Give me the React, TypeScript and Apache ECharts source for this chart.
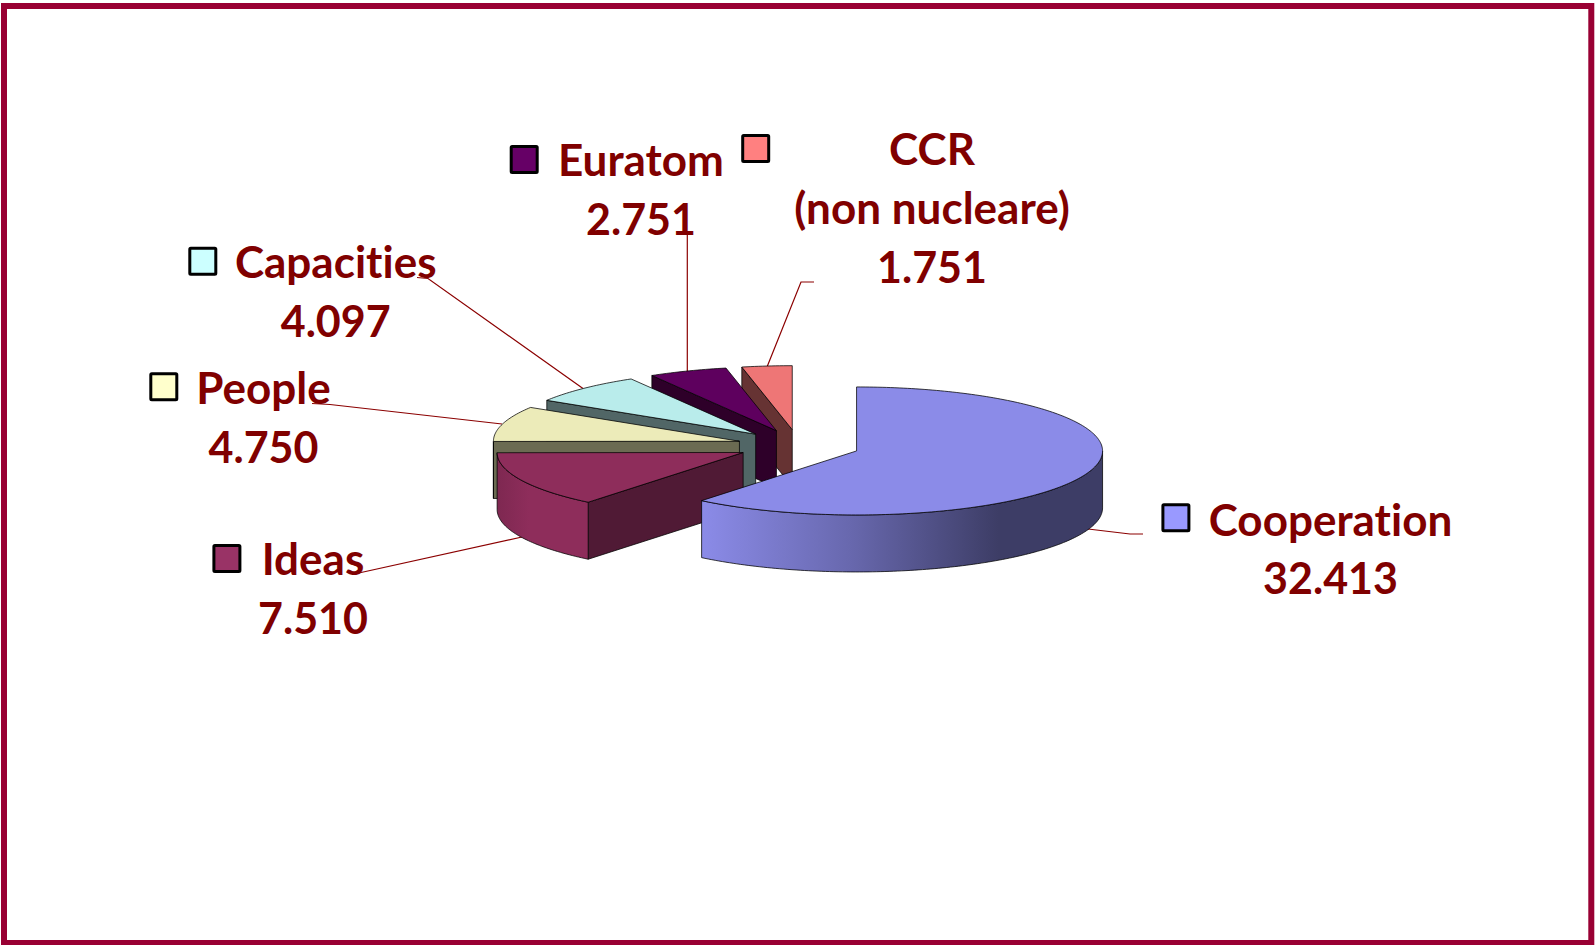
import React, { useEffect, useRef } from "react";
import * as echarts from "echarts";

const CATEGORIES = ["Cooperation", "Ideas", "People", "Capacities", "Euratom", "CCR"];
const VALUES = [32413, 7510, 4750, 4097, 2751, 1751];
const NAME_LINES = [["Cooperation"], ["Ideas"], ["People"], ["Capacities"], ["Euratom"], ["CCR", "(non nucleare)"]];

const LEGEND_COLORS = ["#9999ff", "#993366", "#ffffcc", "#ccffff", "#660066", "#ff8080"];
const TOP_COLORS = ["#8b8be8", "#8e2d5b", "#ecebb9", "#b9eceb", "#5e005e", "#ee7676"];
const WALL_COLORS = ["#3d3d66", "#501a35", "#6b6b52", "#516666", "#2e0029", "#663333"];
const CURVE_STOPS: [number, string][][] = [
  [[0, "#8b8be8"], [0.37, "#6868ae"], [0.74, "#3d3d66"], [1, "#3d3d66"]],
  [[0, "#7e2851"], [0.35, "#8e2d5b"], [1, "#8e2d5b"]],
  [[0, "#6b6b52"], [1, "#6b6b52"]],
  [[0, "#516666"], [1, "#516666"]],
  [[0, "#2e0029"], [1, "#2e0029"]],
  [[0, "#663333"], [1, "#663333"]],
];

// Projection of the 3D pie
const CX = 798.6;
const CY = 445.6;
const RX = 246;
const RY = 64;
const DEPTH = 57;
const EXPLODE = 0.25;

// Layout of the labels: centre x, y of first line, swatch left/top
const LABEL_X = [1330.5, 313, 263.5, 335.7, 641, 932];
const LABEL_Y = [518.5, 558, 387, 261, 159, 148];
const LINE_GAP = 59.2;
const SWATCH = [
  [1161.4, 503.3],
  [212.4, 544],
  [149.3, 372.3],
  [188.3, 246.7],
  [509.7, 145],
  [741.2, 134],
];
const LEADERS = [
  [[1088, 529], [1130, 534], [1143, 534]],
  [[352, 574.5], [522, 537]],
  [[312, 403.5], [330, 404.5], [502, 424]],
  [[417, 277.5], [428, 278.5], [583, 388.5]],
  [[687.3, 235], [687.3, 372]],
  [[814, 282], [801, 282], [767, 367]],
];

const TEXT_COLOR = "#800000";
const NAME_FONT = '700 44px Lato, "Noto Sans", sans-serif';
const VALUE_FONT = '700 43px Lato, "Noto Sans", sans-serif';
const OUTLINE = "rgba(0,0,0,0.75)";

const TOTAL = VALUES.reduce((a, b) => a + b, 0);
const formatValue = (v: number) => String(v).replace(/\B(?=(\d{3})+$)/g, ".");
const rad = (d: number) => (d * Math.PI) / 180;

function sliceAngles(i: number): [number, number] {
  let before = 0;
  for (let k = 0; k < i; k++) before += VALUES[k];
  return [(before / TOTAL) * 360, ((before + VALUES[i]) / TOTAL) * 360];
}

function renderSlice(_params: any, api: any) {
  const i = api.value(1) as number;
  const [a0, a1] = sliceAngles(i);
  const mid = rad((a0 + a1) / 2);
  const ox = CX + EXPLODE * RX * Math.sin(mid);
  const oy = CY - EXPLODE * RY * Math.cos(mid);
  const pt = (deg: number, drop = 0): number[] => [
    ox + RX * Math.sin(rad(deg)),
    oy - RY * Math.cos(rad(deg)) + drop,
  ];
  const arc = (from: number, to: number, drop = 0) => {
    const n = Math.max(2, Math.ceil(Math.abs(to - from)));
    const out: number[][] = [];
    for (let k = 0; k <= n; k++) out.push(pt(from + ((to - from) * k) / n, drop));
    return out;
  };
  const children: any[] = [];
  const wallStyle = { fill: WALL_COLORS[i], stroke: OUTLINE, lineWidth: 1 };

  // Start wall (faces the viewer when the edge lies on the left half)
  if (Math.sin(rad(a0)) < -1e-6) {
    const e = pt(a0);
    children.push({
      type: "polygon",
      shape: { points: [[ox, oy], e, [e[0], e[1] + DEPTH], [ox, oy + DEPTH]] },
      style: wallStyle,
    });
  }
  // End wall (faces the viewer when the edge lies on the right half)
  if (Math.sin(rad(a1)) > 1e-6) {
    const e = pt(a1);
    children.push({
      type: "polygon",
      shape: { points: [[ox, oy], e, [e[0], e[1] + DEPTH], [ox, oy + DEPTH]] },
      style: wallStyle,
    });
  }
  // Curved outer wall: front half of the rim only
  const c0 = Math.max(a0, 90);
  const c1 = Math.min(a1, 270);
  if (c1 > c0) {
    const upper = arc(c0, c1);
    const lower = arc(c1, c0, DEPTH);
    children.push({
      type: "polygon",
      shape: { points: upper.concat(lower) },
      style: {
        fill: new echarts.graphic.LinearGradient(
          0, 0, 1, 0,
          CURVE_STOPS[i].map(([offset, color]) => ({ offset, color })),
        ),
        stroke: OUTLINE,
        lineWidth: 1,
      },
    });
  }
  // Top face
  children.push({
    type: "polygon",
    shape: { points: [[ox, oy] as number[]].concat(arc(a0, a1)) },
    style: { fill: TOP_COLORS[i], stroke: OUTLINE, lineWidth: 1 },
  });
  return { type: "group", children };
}

function buildGraphics() {
  const els: any[] = [
    {
      type: "rect",
      z: 0,
      shape: { x: 4, y: 6, width: 1587.3, height: 937 },
      style: { fill: "#ffffff", stroke: "#990033", lineWidth: 6 },
    },
  ];
  CATEGORIES.forEach((_, i) => {
    els.push({
      type: "polyline",
      z: 1,
      shape: { points: LEADERS[i] },
      style: { stroke: "#8b0000", lineWidth: 1.2, fill: "none" },
    });
    els.push({
      type: "rect",
      z: 5,
      shape: { x: SWATCH[i][0] + 1.5, y: SWATCH[i][1] + 1.5, width: 26, height: 26, r: 1 },
      style: { fill: LEGEND_COLORS[i], stroke: "#000000", lineWidth: 3 },
    });
    const lines = NAME_LINES[i].concat(formatValue(VALUES[i]));
    lines.forEach((text, k) => {
      els.push({
        type: "text",
        z: 6,
        x: LABEL_X[i],
        y: LABEL_Y[i] + k * LINE_GAP,
        style: {
          text,
          fill: TEXT_COLOR,
          font: k === lines.length - 1 ? VALUE_FONT : NAME_FONT,
          align: "center",
          verticalAlign: "middle",
        },
      });
    });
  });
  return els;
}

export default function App() {
  const ref = useRef<HTMLDivElement>(null);
  useEffect(() => {
    const chart = echarts.init(ref.current!, null, { renderer: "svg" });
    // Painted back to front: the small slices first, Cooperation last.
    const drawOrder = CATEGORIES.map((_, i) => CATEGORIES.length - 1 - i);
    chart.setOption({
      animation: false,
      backgroundColor: "#ffffff",
      graphic: { elements: buildGraphics() },
      series: [
        {
          type: "custom",
          coordinateSystem: "none",
          silent: true,
          z: 3,
          renderItem: renderSlice,
          data: drawOrder.map((i) => ({ name: CATEGORIES[i], value: [VALUES[i], i] })),
        },
      ],
    });
    return () => chart.dispose();
  }, []);
  return (
    <div
      ref={ref}
      style={{
        position: "absolute",
        left: 0,
        top: 0,
        width: 1595,
        height: 945,
        letterSpacing: "0.01px",
      }}
    />
  );
}
